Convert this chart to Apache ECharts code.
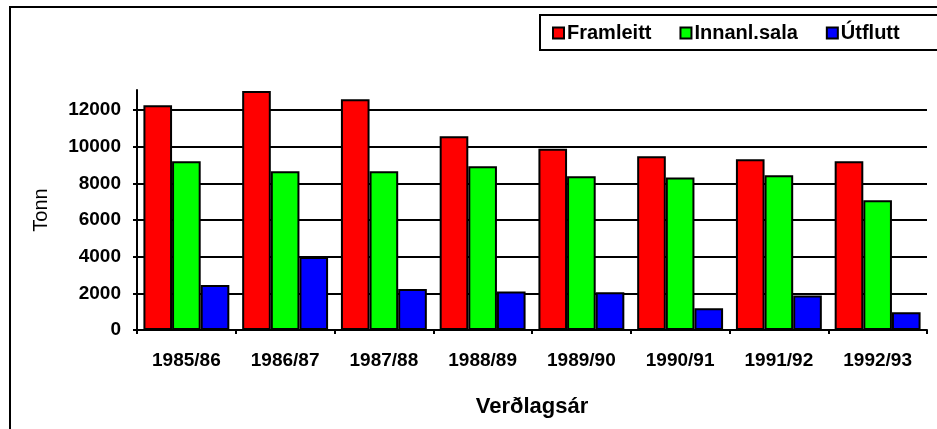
<!DOCTYPE html>
<html>
<head>
<meta charset="utf-8">
<script src="https://cdn.jsdelivr.net/npm/echarts@6/dist/echarts.min.js"></script>
<style>
  html, body { margin: 0; padding: 0; background: #fff; }
  #chart { position: absolute; left: 0; top: 0; width: 937px; height: 429px; }
  #frame {
    position: absolute; left: 9px; top: 6px; width: 928px; height: 423px;
    border-left: 2px solid #000; border-top: 2px solid #000; box-sizing: border-box;
    pointer-events: none;
  }
</style>
</head>
<body>
<div id="chart"></div>
<div id="frame"></div>
<script>
// Verðlagsár (price years)
var years = ['1985/86', '1986/87', '1987/88', '1988/89', '1989/90', '1990/91', '1991/92', '1992/93'];
var framleitt = [12270, 13040, 12590, 10580, 9900, 9480, 9320, 9210];
var innanlSala = [9210, 8660, 8660, 8940, 8390, 8320, 8440, 7080];
var utflutt = [2460, 3980, 2240, 2100, 2060, 1190, 1880, 970];
var yTicks = [0, 2000, 4000, 6000, 8000, 10000, 12000];

var fontFam = '"Liberation Sans", Arial, sans-serif';
var chart = echarts.init(document.getElementById('chart'));

function barSeries(name, data, color) {
  return {
    name: name,
    type: 'bar',
    data: data,
    barGap: '0%',
    barCategoryGap: '13%',
    clip: false,
    itemStyle: { color: color, borderColor: '#000', borderWidth: 2 },
    emphasis: { disabled: true }
  };
}

chart.setOption({
  animation: false,
  backgroundColor: '#fff',
  legend: {
    left: 540,
    top: 15,
    width: 420,
    itemWidth: 11,
    itemHeight: 11,
    itemGap: 28,
    padding: [8, 60, 7, 12],
    borderColor: '#000',
    borderWidth: 2,
    icon: 'rect',
    textStyle: {
      fontFamily: fontFam, fontSize: 20, fontWeight: 'bold', color: '#000',
      padding: [0, 0, 0, -2]
    },
    data: ['Framleitt', 'Innanl.sala', 'Útflutt']
  },
  grid: { left: 137, right: 10, top: 90, bottom: 99 },
  xAxis: {
    type: 'category',
    data: years,
    name: 'Verðlagsár',
    nameLocation: 'middle',
    nameGap: 66,
    nameTextStyle: { fontFamily: fontFam, fontSize: 22, fontWeight: 'bold', color: '#000' },
    axisLine: { lineStyle: { color: '#000', width: 2 } },
    axisTick: { show: true, length: 4, lineStyle: { color: '#000', width: 2 } },
    axisLabel: { margin: 21, fontFamily: fontFam, fontSize: 19, fontWeight: 'bold', color: '#000' }
  },
  yAxis: {
    type: 'value',
    min: 0,
    max: 13100,
    interval: 2000,
    name: 'Tonn',
    nameLocation: 'middle',
    nameGap: 86,
    nameTextStyle: { fontFamily: '"Liberation Sans Narrow", "Liberation Sans", Arial, sans-serif', fontSize: 20, color: '#000' },
    axisLine: { show: true, lineStyle: { color: '#000', width: 2 } },
    axisTick: { show: true, length: 4, customValues: yTicks, lineStyle: { color: '#000', width: 2 } },
    axisLabel: {
      margin: 16, customValues: yTicks,
      formatter: function (v) { return String(v); },
      fontFamily: fontFam, fontSize: 19, fontWeight: 'bold', color: '#000'
    },
    splitLine: { show: true, lineStyle: { color: '#000', width: 2 } }
  },
  series: [
    barSeries('Framleitt', framleitt, '#ff0000'),
    barSeries('Innanl.sala', innanlSala, '#00ff00'),
    barSeries('Útflutt', utflutt, '#0000ff')
  ]
});
</script>
</body>
</html>
